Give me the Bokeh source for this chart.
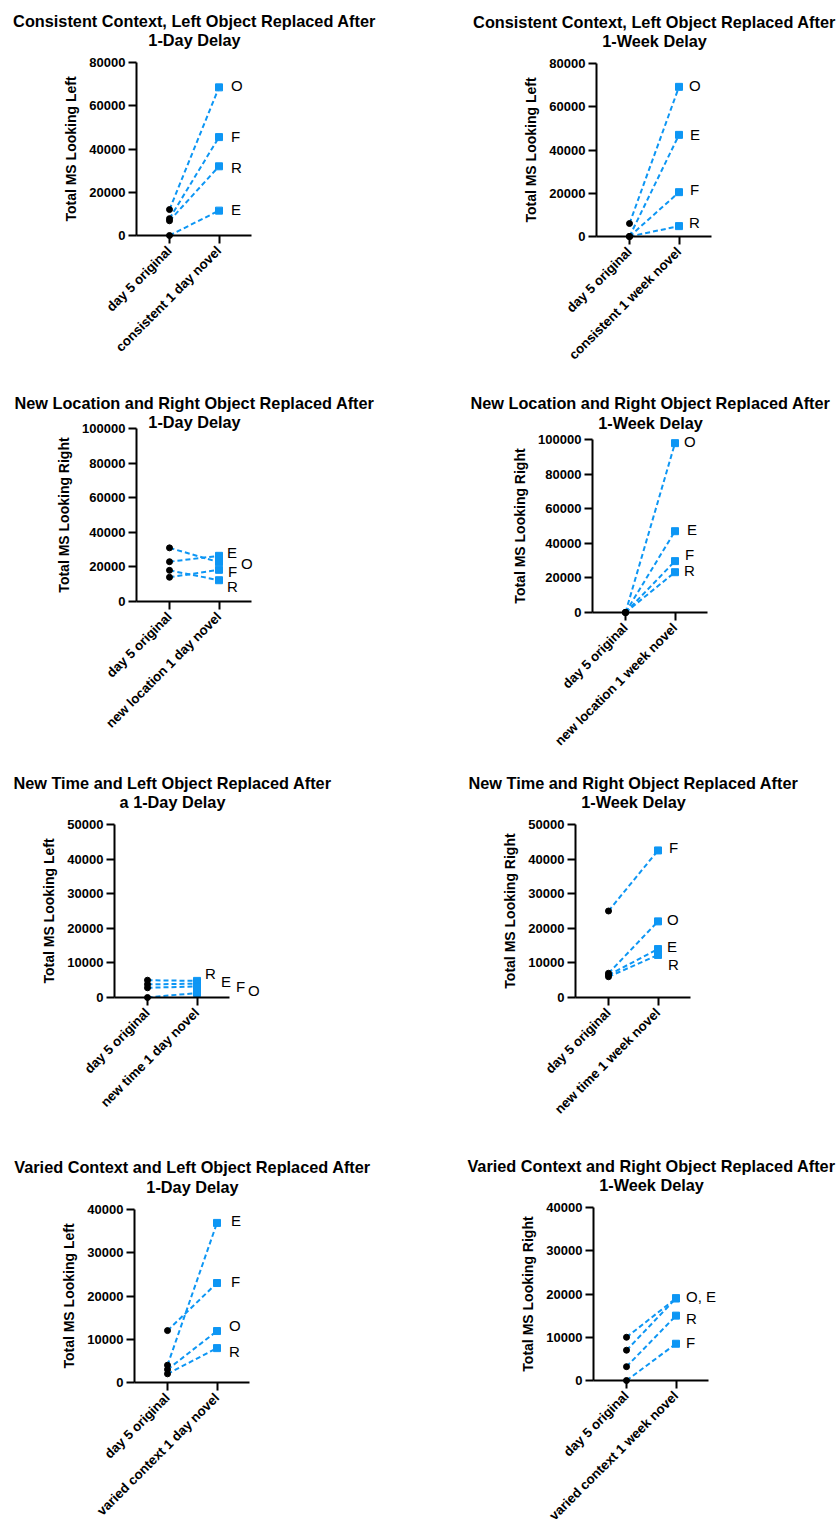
import math
from bokeh.plotting import figure
from bokeh.layouts import column, row
from bokeh.models import FixedTicker, BasicTickFormatter
from bokeh.core.properties import value
from bokeh.embed import file_html
from bokeh.resources import INLINE

FONT = "Liberation Sans"
BLUE = "#0D96F4"

# ---------------- data ----------------
x_categories = [1, 2]

p1_title = ["Consistent Context, Left Object Replaced After", "1-Day Delay"]
p1_ylabel = "Total MS Looking Left"
p1_xlabels = ["day 5 original", "consistent 1 day novel"]
p1_ymax, p1_ystep = 80000, 20000
p1_original = [12000, 7800, 6800, 0]
p1_novel = [68500, 45500, 32000, 11500]
p1_labels = ["O", "F", "R", "E"]
p1_label_y = [69200, 45900, 31450, 12160]

p2_title = ["Consistent Context, Left Object Replaced After", "1-Week Delay"]
p2_ylabel = "Total MS Looking Left"
p2_xlabels = ["day 5 original", "consistent 1 week novel"]
p2_ymax, p2_ystep = 80000, 20000
p2_original = [6000, 0, 0, 0]
p2_novel = [69200, 47000, 20500, 4800]
p2_labels = ["O", "E", "F", "R"]
p2_label_y = [69800, 47150, 21900, 6300]

p3_title = ["New Location and Right Object Replaced After", "1-Day Delay"]
p3_ylabel = "Total MS Looking Right"
p3_xlabels = ["day 5 original", "new location 1 day novel"]
p3_ymax, p3_ystep = 100000, 20000
p3_original = [23000, 31000, 14000, 18000]
p3_novel = [26400, 22700, 18300, 12300]
p3_labels = ["E", "O", "F", "R"]
p3_label_y = [28100, 21970, 17110, 8440]

p4_title = ["New Location and Right Object Replaced After", "1-Week Delay"]
p4_ylabel = "Total MS Looking Right"
p4_xlabels = ["day 5 original", "new location 1 week novel"]
p4_ymax, p4_ystep = 100000, 20000
p4_original = [0, 0, 0, 0]
p4_novel = [97900, 47000, 29700, 23300]
p4_labels = ["O", "E", "F", "R"]
p4_label_y = [98600, 48000, 33500, 24300]

p5_title = ["New Time and Left Object Replaced After", "a 1-Day Delay"]
p5_ylabel = "Total MS Looking Left"
p5_xlabels = ["day 5 original", "new time 1 day novel"]
p5_ymax, p5_ystep = 50000, 10000
p5_original = [5000, 3800, 2800, 0]
p5_novel = [4800, 4000, 3200, 1300]
p5_labels = ["R", "E", "F", "O"]
p5_label_y = [7050, 4540, 3090, 1940]

p6_title = ["New Time and Right Object Replaced After", "1-Week Delay"]
p6_ylabel = "Total MS Looking Right"
p6_xlabels = ["day 5 original", "new time 1 week novel"]
p6_ymax, p6_ystep = 50000, 10000
p6_original = [25000, 7000, 6500, 6000]
p6_novel = [42500, 22000, 14000, 12300]
p6_labels = ["F", "O", "E", "R"]
p6_label_y = [43260, 22630, 14740, 9620]

p7_title = ["Varied Context and Left Object Replaced After", "1-Day Delay"]
p7_ylabel = "Total MS Looking Left"
p7_xlabels = ["day 5 original", "varied context 1 day novel"]
p7_ymax, p7_ystep = 40000, 10000
p7_original = [4000, 12000, 3000, 2000]
p7_novel = [36900, 23000, 11900, 7950]
p7_labels = ["E", "F", "O", "R"]
p7_label_y = [37520, 23460, 13270, 7180]

p8_title = ["Varied Context and Right Object Replaced After", "1-Week Delay"]
p8_ylabel = "Total MS Looking Right"
p8_xlabels = ["day 5 original", "varied context 1 week novel"]
p8_ymax, p8_ystep = 40000, 10000
p8_original = [10000, 7000, 3200, 0]
p8_novel = [19000, 19000, 15000, 8500]
p8_labels = ["O, E", "R", "F"]
p8_label_y = [19350, 14430, 8880]

# ---------------- layout (pixels) ----------------
COL_X = [0, 420]
COL_W = [420, 417]
ROW_Y = [0, 380, 760, 1140]
ROW_H = [380, 380, 380, 379]
AXIS_H = 173          # px from 0 to ymax
UNIT_PX = 49.5        # px between the two categories
LEFT_PX = 33          # px from y axis to first category
RIGHT_AXIS_PX = 32.5  # px from second category to end of x axis line
TITLE_CX = 58         # px from y axis to the title centre

# per panel: (col, row, y-axis page x, zero-line page y, label x offsets, title baseline offsets above top tick)
LAYOUT = [
    (0, 0, 136, 235, [12, 12, 12, 12], (42, 23)),
    (1, 0, 596, 236, [10, 11, 11, 10], (42, 23)),
    (0, 1, 136, 601, [8, 22, 9, 8], (25.6, 6.6)),
    (1, 1, 592, 612, [9, 12, 10, 9], (36.6, 17)),
    (0, 2, 114, 997, [8, 24, 39, 51], (42, 22.5)),
    (1, 2, 575, 997, [11, 9, 9, 10], (42, 22.5)),
    (0, 3, 134, 1382, [14, 14, 12, 12], (42.4, 23)),
    (1, 3, 593, 1380, [10, 10, 10], (41.7, 22.4)),
]


def make_panel(title, ylabel, xlabels, ymax, ystep, original, novel, labels, label_y, lay):
    col, rw, ax_x, zero_y, label_dx, t_off = lay
    unit = ymax / AXIS_H
    width, height = COL_W[col], ROW_H[rw]
    axis_x = 1 - LEFT_PX / UNIT_PX                 # data x of the y axis
    x_start = axis_x - (ax_x - COL_X[col]) / UNIT_PX
    x_end = x_start + width / UNIT_PX
    y_end = (zero_y - ROW_Y[rw]) * unit
    y_start = -(ROW_Y[rw] + height - zero_y) * unit
    p = figure(width=width, height=height,
               x_range=(x_start, x_end), y_range=(y_start, y_end),
               min_border_left=0, min_border_right=0,
               min_border_top=0, min_border_bottom=0,
               toolbar_location=None, output_backend="svg")
    p.title.visible = False
    p.outline_line_color = None
    p.xgrid.visible = False
    p.ygrid.visible = False
    p.background_fill_color = "white"
    p.border_fill_color = "white"

    # y axis, pinned at its data position
    ya = p.yaxis[0]
    ya.fixed_location = axis_x
    ya.ticker = FixedTicker(ticks=list(range(0, ymax + 1, ystep)), minor_ticks=[])
    ya.formatter = BasicTickFormatter(use_scientific=False)
    ya.bounds = (0, ymax)
    ya.axis_label = ylabel
    ya.axis_label_text_font = FONT
    ya.axis_label_text_font_size = "14px"
    ya.axis_label_text_font_style = "bold"
    ya.axis_label_text_color = "black"
    ya.axis_label_standoff = 7
    ya.major_label_text_font = FONT
    ya.major_label_text_font_size = "13px"
    ya.major_label_text_font_style = "bold"
    ya.major_label_text_color = "black"
    ya.major_label_standoff = 3
    ya.axis_line_width = 2
    ya.axis_line_color = "black"
    ya.major_tick_line_width = 2
    ya.major_tick_line_color = "black"
    ya.major_tick_out = 8
    ya.major_tick_in = 0

    # x axis, pinned at y = 0
    xa = p.xaxis[0]
    xa.fixed_location = 0
    xa.ticker = FixedTicker(ticks=x_categories, minor_ticks=[])
    xa.major_label_overrides = {x_categories[0]: xlabels[0], x_categories[1]: xlabels[1]}
    xa.bounds = (axis_x, 2 + RIGHT_AXIS_PX / UNIT_PX)
    xa.major_label_orientation = math.pi / 4
    xa.major_label_text_font = FONT
    xa.major_label_text_font_size = "13.3px"
    xa.major_label_text_font_style = "bold"
    xa.major_label_text_color = "black"
    xa.major_label_standoff = 5
    xa.axis_line_width = 2
    xa.axis_line_color = "black"
    xa.major_tick_line_width = 2
    xa.major_tick_line_color = "black"
    xa.major_tick_out = 8
    xa.major_tick_in = 0

    # title (two centred lines)
    tx = axis_x + TITLE_CX / UNIT_PX
    p.text([tx, tx], [ymax + t_off[0] * unit, ymax + t_off[1] * unit], text=title,
           text_align="center", text_baseline="alphabetic", text_font=value(FONT),
           text_font_size="16.3px", text_font_style="bold", text_color="black")

    n = len(original)
    x0 = [x_categories[0]] * n
    x1 = [x_categories[1]] * n
    p.segment(x0, original, x1, novel, line_color=BLUE, line_width=2, line_dash="5 3")
    p.scatter(x0, original, marker="circle", size=6, color="black")
    p.scatter(x1, novel, marker="square", size=7, color=BLUE)
    p.text([x_categories[1]] * len(labels), label_y, text=labels, x_offset=label_dx,
           text_align="left", text_baseline="middle", text_font=value(FONT),
           text_font_size="15px", text_color="black")
    return p


panels = [
    make_panel(p1_title, p1_ylabel, p1_xlabels, p1_ymax, p1_ystep, p1_original, p1_novel, p1_labels, p1_label_y, LAYOUT[0]),
    make_panel(p2_title, p2_ylabel, p2_xlabels, p2_ymax, p2_ystep, p2_original, p2_novel, p2_labels, p2_label_y, LAYOUT[1]),
    make_panel(p3_title, p3_ylabel, p3_xlabels, p3_ymax, p3_ystep, p3_original, p3_novel, p3_labels, p3_label_y, LAYOUT[2]),
    make_panel(p4_title, p4_ylabel, p4_xlabels, p4_ymax, p4_ystep, p4_original, p4_novel, p4_labels, p4_label_y, LAYOUT[3]),
    make_panel(p5_title, p5_ylabel, p5_xlabels, p5_ymax, p5_ystep, p5_original, p5_novel, p5_labels, p5_label_y, LAYOUT[4]),
    make_panel(p6_title, p6_ylabel, p6_xlabels, p6_ymax, p6_ystep, p6_original, p6_novel, p6_labels, p6_label_y, LAYOUT[5]),
    make_panel(p7_title, p7_ylabel, p7_xlabels, p7_ymax, p7_ystep, p7_original, p7_novel, p7_labels, p7_label_y, LAYOUT[6]),
    make_panel(p8_title, p8_ylabel, p8_xlabels, p8_ymax, p8_ystep, p8_original, p8_novel, p8_labels, p8_label_y, LAYOUT[7]),
]

layout = column(
    row(panels[0], panels[1], spacing=0),
    row(panels[2], panels[3], spacing=0),
    row(panels[4], panels[5], spacing=0),
    row(panels[6], panels[7], spacing=0),
    spacing=0,
)

open("out.html", "w").write(file_html(layout, INLINE))
